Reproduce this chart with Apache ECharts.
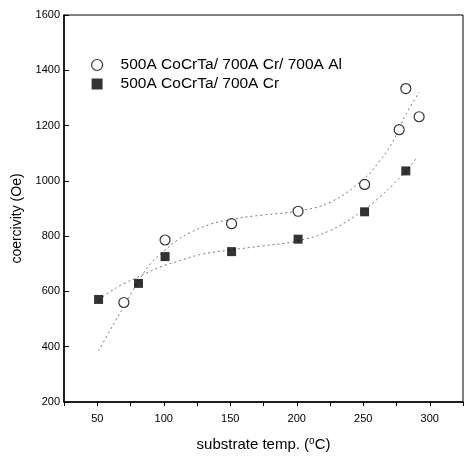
<!DOCTYPE html>
<html>
<head>
<meta charset="utf-8">
<script src="https://cdn.jsdelivr.net/npm/echarts@6/dist/echarts.min.js"></script>
<style>html,body{margin:0;padding:0;background:#fff}#c{width:466px;height:457px}</style>
</head>
<body>
<div id="c"></div>
<script>
// Data
var seriesNames = ['500A CoCrTa/ 700A Cr/ 700A Al', '500A CoCrTa/ 700A Cr'];
var alTemp = [70, 101, 151, 201, 251, 277, 282, 292];
var alCoercivity = [560, 786, 845, 890, 987, 1185, 1334, 1232];
var crTemp = [51, 81, 101, 151, 201, 251, 282];
var crCoercivity = [571, 629, 726, 744, 789, 888, 1036];
// dotted fit curves
var alFitTemp = [51, 60, 70, 80, 90, 100, 110, 120, 135, 150, 175, 200, 225, 250, 262, 272, 282, 292];
var alFitVal = [385, 463, 545, 630, 700, 745, 785, 813, 843, 860, 877, 890, 922, 1005, 1070, 1140, 1240, 1320];
var crFitTemp = [51, 60, 70, 82, 97, 110, 127, 150, 175, 200, 225, 250, 262, 272, 282, 290];
var crFitVal = [569, 600, 628, 655, 688, 708, 733, 750, 765, 782, 820, 893, 940, 985, 1035, 1081];
var xTicks = [50, 100, 150, 200, 250, 300];
var yTicks = [200, 400, 600, 800, 1000, 1200, 1400, 1600];

function zip(a, b) { return a.map(function (v, i) { return [v, b[i]]; }); }

var chart = echarts.init(document.getElementById('c'), null, {renderer: 'canvas'});
var font = 'Liberation Sans, Arial, sans-serif';
chart.setOption({
  backgroundColor: '#fff',
  animation: false,
  textStyle: {fontFamily: font, color: '#000'},
  grid: {left: 64, right: 3, top: 15, bottom: 50, show: true, borderColor: '#000', borderWidth: 1},
  legend: {
    data: [
      {name: seriesNames[0], icon: 'circle', itemStyle: {color: '#fff', borderColor: '#000', borderWidth: 1.2}},
      {name: seriesNames[1], icon: 'rect', itemStyle: {color: '#000', borderWidth: 0}}
    ],
    orient: 'vertical', left: 86, top: 52, itemWidth: 11, itemHeight: 11, itemGap: 3,
    textStyle: {fontSize: 15.5, fontFamily: font, color: '#000', padding: [0, 0, 0, 13]}
  },
  xAxis: {
    type: 'value', min: 25, max: 325, interval: 25,
    name: 'substrate temp. ({sup|o}C)', nameLocation: 'middle', nameGap: 34,
    nameTextStyle: {fontSize: 15, fontFamily: font, color: '#000',
      rich: {sup: {fontSize: 10, fontFamily: font, color: '#000', verticalAlign: 'top', padding: [0, 0, 7, 0]}}},
    axisLine: {lineStyle: {color: '#000', width: 1.5}},
    axisTick: {show: true, inside: false, length: 4, lineStyle: {color: '#000'}},
    axisLabel: {fontSize: 11, color: '#000', margin: 11, fontFamily: font,
      formatter: function (v) { return xTicks.indexOf(v) >= 0 ? String(v) : ''; }},
    splitLine: {show: false}
  },
  yAxis: {
    type: 'value', min: 200, max: 1600, interval: 200,
    name: 'coercivity (Oe)', nameLocation: 'middle', nameGap: 39,
    nameTextStyle: {fontSize: 14, fontFamily: font, color: '#000', padding: [0, 20, 0, 0]},
    axisLine: {lineStyle: {color: '#000', width: 1.5}},
    axisTick: {show: true, inside: true, length: 5, lineStyle: {color: '#000'}},
    axisLabel: {fontSize: 11, color: '#000', margin: 4, fontFamily: font,
      formatter: function (v) { return yTicks.indexOf(v) >= 0 ? String(v) : ''; }},
    splitLine: {show: false}
  },
  series: [
    {name: 'fitAl', type: 'line', data: zip(alFitTemp, alFitVal), smooth: 0.4, showSymbol: false,
      lineStyle: {color: '#777', width: 1, type: [2, 3]}, z: 1, silent: true},
    {name: 'fitCr', type: 'line', data: zip(crFitTemp, crFitVal), smooth: 0.4, showSymbol: false,
      lineStyle: {color: '#777', width: 1, type: [2, 3]}, z: 1, silent: true},
    {name: seriesNames[0], type: 'scatter', data: zip(alTemp, alCoercivity), symbol: 'circle', symbolSize: 10,
      itemStyle: {color: '#fff', borderColor: '#000', borderWidth: 1.2}, z: 3},
    {name: seriesNames[1], type: 'scatter', data: zip(crTemp, crCoercivity), symbol: 'rect', symbolSize: 9,
      itemStyle: {color: '#000'}, z: 3}
  ]
});
</script>
</body>
</html>
